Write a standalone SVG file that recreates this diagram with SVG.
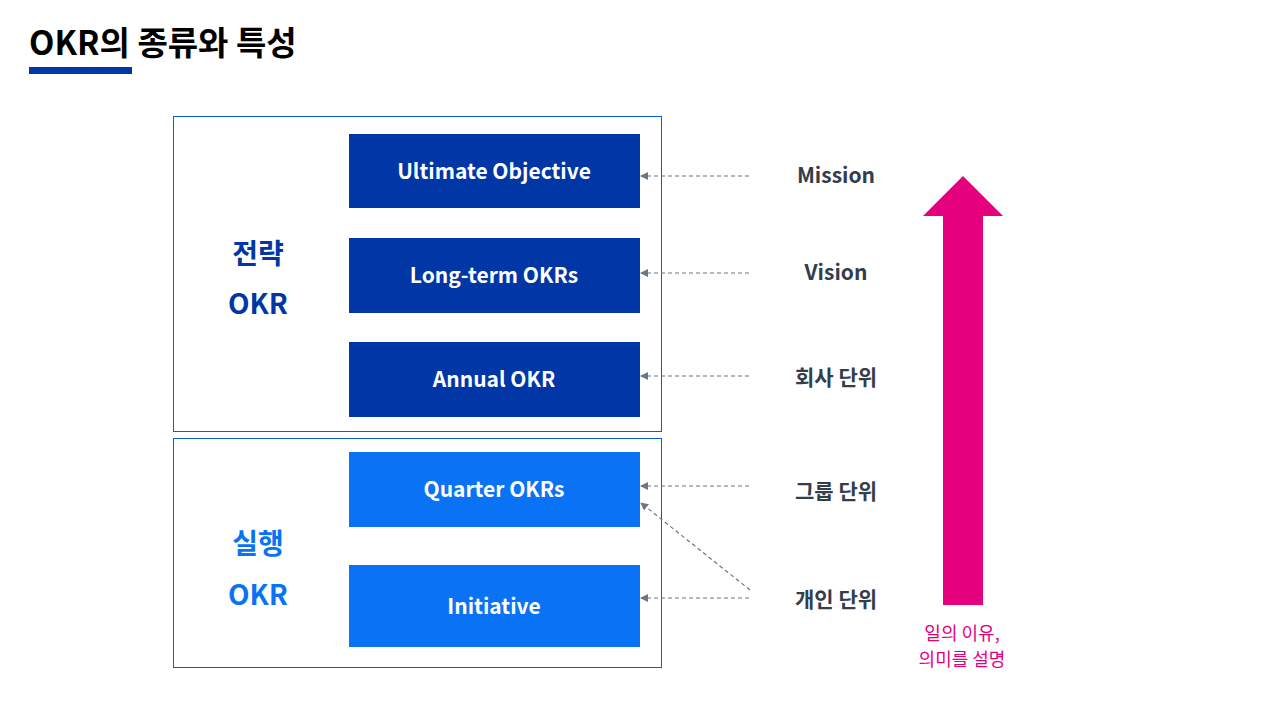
<svg xmlns="http://www.w3.org/2000/svg" width="1280" height="720" viewBox="0 0 1280 720">
<style>
text{font-family:"Noto Sans CJK KR","Noto Sans",sans-serif;font-weight:bold}
.frame{fill:none;stroke:#0a5fd0;stroke-width:1}
.dk{fill:#0036a6}.lt{fill:#0a73f5}
.bt{fill:#fff;font-size:21px;text-anchor:middle}
.rt{fill:#333d4b;font-size:21px;text-anchor:middle}
.c{stroke:#6b7684;stroke-width:1.2;stroke-dasharray:4 3;fill:none}
</style>
<defs><marker id="a" markerWidth="8" markerHeight="8" refX="7" refY="4" orient="auto" markerUnits="userSpaceOnUse"><path d="M0,0L8,4L0,8z" fill="#6b7684"/></marker></defs>
<text x="29" y="55" font-size="33" fill="#000">OKR의 종류와 특성</text>
<rect x="29" y="67" width="103" height="7" fill="#0036a6"/>
<rect class="frame" x="173.5" y="116.5" width="488" height="315"/>
<rect class="frame" x="173.5" y="438.5" width="488" height="229"/>
<g id="strategy"><text x="258" y="264" font-size="28" fill="#0036a6" text-anchor="middle">전략</text><text x="258" y="314" font-size="28" fill="#0036a6" text-anchor="middle">OKR</text></g>
<g id="exec"><text x="258" y="554" font-size="28" fill="#0a73f5" text-anchor="middle">실행</text><text x="258" y="605" font-size="28" fill="#0a73f5" text-anchor="middle">OKR</text></g>
<g id="n1"><rect class="dk" x="349" y="134" width="291" height="74"/><text class="bt" x="494" y="179">Ultimate Objective</text></g>
<g id="n2"><rect class="dk" x="349" y="238" width="291" height="75"/><text class="bt" x="494" y="283">Long-term OKRs</text></g>
<g id="n3"><rect class="dk" x="349" y="342" width="291" height="75"/><text class="bt" x="494" y="387">Annual OKR</text></g>
<g id="n4"><rect class="lt" x="349" y="452" width="291" height="75"/><text class="bt" x="494" y="497">Quarter OKRs</text></g>
<g id="n5"><rect class="lt" x="349" y="565" width="291" height="82"/><text class="bt" x="494" y="614">Initiative</text></g>
<g id="r"><text class="rt" x="836" y="183">Mission</text><text class="rt" x="836" y="280">Vision</text><text class="rt" x="836" y="385">회사 단위</text><text class="rt" x="836" y="499">그룹 단위</text><text class="rt" x="836" y="607">개인 단위</text></g>
<g id="connectors">
<line class="c" x1="749" y1="176" x2="641" y2="176" marker-end="url(#a)"/>
<line class="c" x1="749" y1="273" x2="641" y2="273" marker-end="url(#a)"/>
<line class="c" x1="749" y1="376" x2="641" y2="376" marker-end="url(#a)"/>
<line class="c" x1="749" y1="486" x2="641" y2="486" marker-end="url(#a)"/>
<line class="c" x1="749" y1="598" x2="641" y2="598" marker-end="url(#a)"/>
<line class="c" x1="750" y1="590" x2="641" y2="503" marker-end="url(#a)"/>
</g>
<g id="bigarrow"><path d="M943,605V216H923L963,176L1003,216H983V605Z" fill="#e5007e"/>
<text x="962" y="640" font-size="18" font-weight="normal" fill="#e5007e" text-anchor="middle" style="font-weight:normal">일의 이유,</text>
<text x="962" y="666" font-size="18" fill="#e5007e" text-anchor="middle" style="font-weight:normal">의미를 설명</text></g>
</svg>
